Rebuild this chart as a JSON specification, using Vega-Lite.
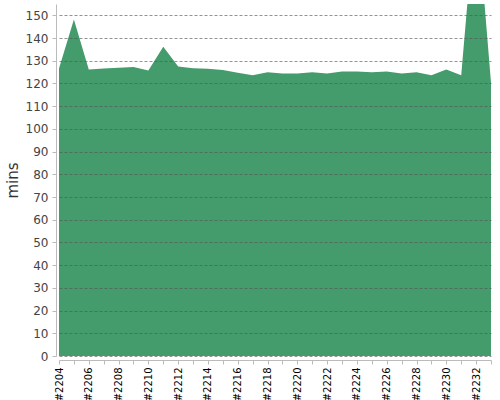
{
  "$schema": "https://vega.github.io/schema/vega-lite/v6.json",
  "width": 432,
  "height": 352,
  "autosize": {"type": "none"},
  "padding": {"left": 59, "top": 4, "right": 9, "bottom": 44},
  "data": {
    "values": [
      {"issue": "#2204", "mins": 126.6},
      {"issue": "#2205", "mins": 148.2},
      {"issue": "#2206", "mins": 126.2},
      {"issue": "#2207", "mins": 126.6},
      {"issue": "#2208", "mins": 126.9},
      {"issue": "#2209", "mins": 127.3},
      {"issue": "#2210", "mins": 125.7},
      {"issue": "#2211", "mins": 136.2},
      {"issue": "#2212", "mins": 127.5},
      {"issue": "#2213", "mins": 126.7},
      {"issue": "#2214", "mins": 126.5},
      {"issue": "#2215", "mins": 125.9},
      {"issue": "#2216", "mins": 124.7},
      {"issue": "#2217", "mins": 123.6},
      {"issue": "#2218", "mins": 124.9},
      {"issue": "#2219", "mins": 124.4},
      {"issue": "#2220", "mins": 124.4},
      {"issue": "#2221", "mins": 124.9},
      {"issue": "#2222", "mins": 124.4},
      {"issue": "#2223", "mins": 125.3},
      {"issue": "#2224", "mins": 125.3},
      {"issue": "#2225", "mins": 124.9},
      {"issue": "#2226", "mins": 125.3},
      {"issue": "#2227", "mins": 124.4},
      {"issue": "#2228", "mins": 124.9},
      {"issue": "#2229", "mins": 123.6},
      {"issue": "#2230", "mins": 126.2},
      {"issue": "#2231", "mins": 123.6},
      {"issue": "#2232", "mins": 200},
      {"issue": "#2233", "mins": 120.4}
    ]
  },
  "mark": {"type": "area", "color": "#449c6c", "opacity": 1, "clip": true},
  "encoding": {
    "x": {
      "field": "issue",
      "type": "ordinal",
      "sort": null,
      "scale": {"type": "point", "padding": 0},
      "axis": {
        "title": null,
        "labelAngle": -90,
        "labelAlign": "right",
        "labelBaseline": "middle",
        "labelFont": "DejaVu Sans",
        "labelFontSize": 10,
        "labelColor": "#000000",
        "labelPadding": 3,
        "labelExpr": "toNumber(substring(datum.value, 1)) % 2 == 0 ? datum.value : ''",
        "offset": 4,
        "domainColor": "#bbbbbb",
        "tickColor": "#bbbbbb",
        "tickSize": 4,
        "grid": false
      }
    },
    "y": {
      "field": "mins",
      "type": "quantitative",
      "scale": {"domain": [0, 155], "nice": false},
      "axis": {
        "title": "mins",
        "titleFont": "DejaVu Sans",
        "titleFontSize": 15,
        "titleFontWeight": 500,
        "titleColor": "#333333",
        "titlePadding": 5,
        "values": [0, 10, 20, 30, 40, 50, 60, 70, 80, 90, 100, 110, 120, 130, 140, 150],
        "labelFont": "DejaVu Sans",
        "labelFontSize": 12,
        "labelColor": "#444444",
        "labelPadding": 4,
        "offset": 3,
        "domainColor": "#bbbbbb",
        "tickColor": "#bbbbbb",
        "tickSize": 4,
        "grid": true,
        "gridColor": "#555555",
        "gridOpacity": 0.8,
        "gridDash": [3, 2],
        "gridWidth": 0.8,
        "zindex": 1
      }
    }
  },
  "config": {"view": {"stroke": null}}
}
